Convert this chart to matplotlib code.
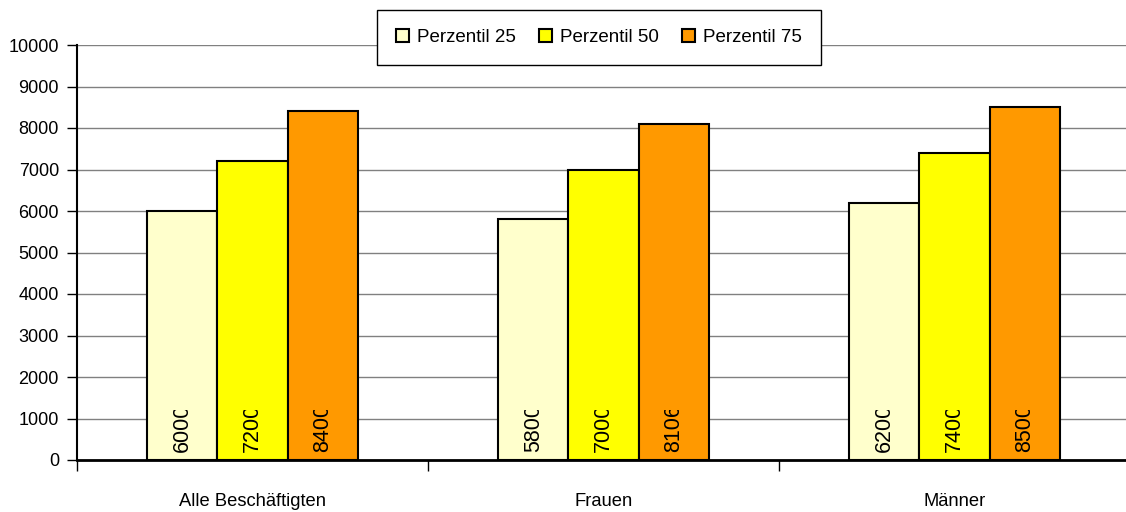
import numpy as np
import matplotlib
matplotlib.use('Agg')
import matplotlib.pyplot as plt
from matplotlib.transforms import Bbox, TransformedBbox

plt.rcParams['font.family'] = ['Liberation Sans', 'DejaVu Sans']

categories = ['Alle Beschäftigten', 'Frauen', 'Männer']
series = ['Perzentil 25', 'Perzentil 50', 'Perzentil 75']
p25 = [6000, 5800, 6200]
p50 = [7200, 7000, 7400]
p75 = [8400, 8106, 8500]
colors = ['#FFFFCC', '#FFFF00', '#FF9900']

fig = plt.figure(figsize=(11.26, 5.12), dpi=100)
ax = fig.add_axes([77 / 1126, 1 - 460 / 512, 1053 / 1126, 415 / 512])

x = np.arange(len(categories))
width = 0.2
for i, (vals, col, name) in enumerate(zip([p25, p50, p75], colors, series)):
    pos = x + 0.3 + i * width
    ax.bar(pos, vals, width, color=col, edgecolor='black', linewidth=1.5,
           label=name, zorder=3)
    for xp, v in zip(pos, vals):
        # value label, cut off at the top like in the original
        t = ax.text(xp, 190, f'{v}', rotation=90, ha='center', va='bottom',
                    fontsize=15.5, zorder=4, clip_on=True)
        t.set_clip_path(None)
        t.set_clip_box(TransformedBbox(Bbox([[xp - width / 2, 0], [xp + width / 2, 1210]]),
                                       ax.transData))

ax.set_xlim(0, 3)
ax.set_ylim(0, 10000)
ax.set_yticks(np.arange(0, 10001, 1000))
ax.yaxis.grid(True, color='#808080', linewidth=1, zorder=0)
ax.set_axisbelow(True)

ax.set_xticks([0, 1, 2, 3])
ax.set_xticklabels([])
ax.set_xticks(x + 0.5, minor=True)
ax.set_xticklabels(categories, minor=True)
ax.tick_params(axis='x', which='major', length=8, width=1, direction='out')
ax.tick_params(axis='x', which='minor', length=0, pad=24, labelsize=13.2)
ax.tick_params(axis='y', length=7, width=1, direction='out', pad=6, labelsize=13)

for s in ['top', 'right']:
    ax.spines[s].set_visible(False)
ax.spines['left'].set_linewidth(1.5)
ax.spines['bottom'].set_linewidth(2)

leg = fig.legend(loc='center', bbox_to_anchor=(599 / 1126, 1 - 37.5 / 512), ncol=3,
                 fancybox=False, edgecolor='black', framealpha=1,
                 handlelength=0.7, handleheight=0.7, handletextpad=0.45,
                 columnspacing=1.2, borderpad=1.0, fontsize=13.5)
leg.get_frame().set_linewidth(1)

fig.savefig('out.png', dpi=100)
